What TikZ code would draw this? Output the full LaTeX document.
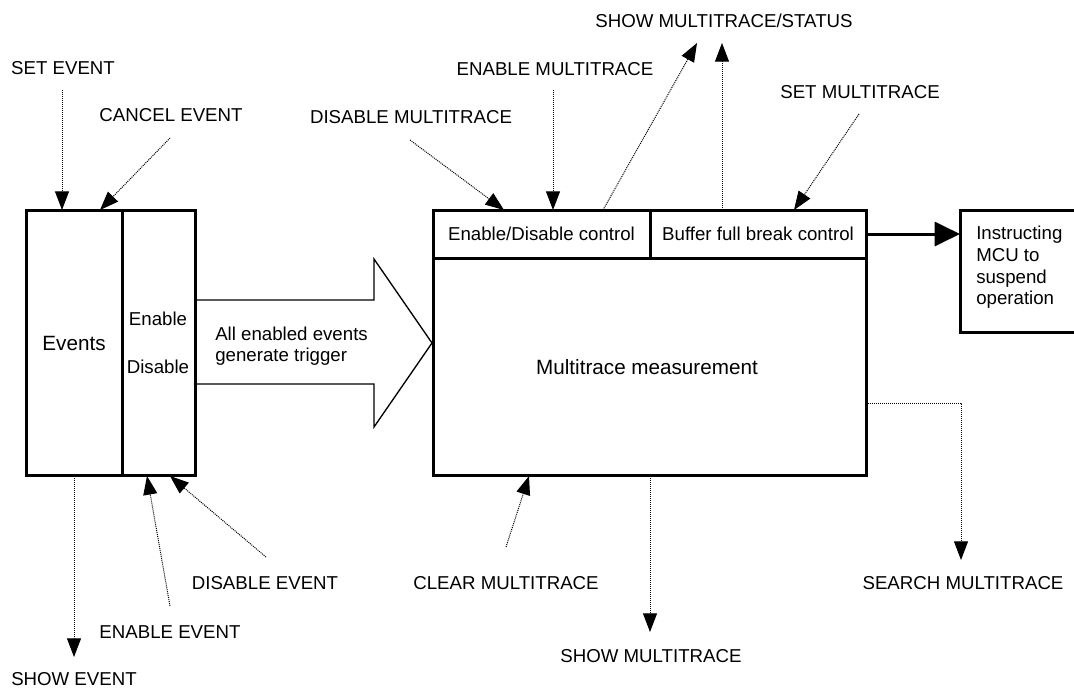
\documentclass[tikz,border=0pt]{standalone}
\usepackage{fontspec}
\setmainfont{Liberation Sans}
\usetikzlibrary{arrows.meta}
\begin{document}
\begin{tikzpicture}[x=0.75pt,y=-0.75pt,
  lbl/.style={inner sep=0pt, font=\fontsize{14}{16}\selectfont},
  big/.style={inner sep=0pt, font=\fontsize{15.5}{18}\selectfont},
  box/.style={draw, line width=2.25pt, inner sep=0pt, outer sep=0pt, anchor=north west},
  cmd/.style={line width=0.75pt, dash pattern=on 0.75pt off 0.75pt, -{Triangle[length=14pt,width=10.5pt]}},
  thickarrow/.style={line width=2.25pt, -{Triangle[length=19pt,width=18pt]}},
]
\useasboundingbox (0,0) rectangle (1074,689);
\clip (0,0) rectangle (1074,689);

% big hollow arrow
\draw[line width=1pt, line join=miter] (195,300) -- (374,300) -- (374,259) -- (432,343) -- (374,427) -- (374,384) -- (195,384);
\node[lbl, anchor=north west, align=left, font=\fontsize{14}{15.75}\selectfont] (trig) at (215,327) {All enabled events\\generate trigger};

% events boxes
\node[box, minimum width=72pt, minimum height=198.75pt] (evL) at (26,210) {};
\node[box, minimum width=54.75pt, minimum height=198.75pt] (evR) at (122,210) {};
\node[big] (evtxt) at (74,343) {Events};
\node[lbl] (en) at (158,319) {Enable};
\node[lbl] (dis) at (158,367) {Disable};

% main box
\node[box, minimum width=324.75pt, minimum height=198.75pt] (mt) at (433,210) {};
\node[box, minimum width=162.75pt, minimum height=36pt, font=\fontsize{14}{16}\selectfont] (ctlA) at (433,210) {Enable/Disable control};
\node[box, minimum width=162pt, minimum height=36pt, font=\fontsize{14}{16}\selectfont] (ctlB) at (650,210) {Buffer full break control};
\node[big] (mttxt) at (647,367) {Multitrace measurement};

% MCU box
\node[box, minimum width=90pt, minimum height=91.5pt] (mcu) at (960,210) {};
\node[lbl, anchor=north west, align=left, font=\fontsize{14}{16.3}\selectfont] (mcutxt) at (976,226) {Instructing\\MCU to\\suspend\\operation};

\draw[thickarrow] (ctlB.east) -- (ctlB.east -| mcu.west);

% labels
\node[lbl] (lSetE) at (63,68) {SET EVENT};
\node[lbl] (lCanE) at (171,115) {CANCEL EVENT};
\node[lbl] (lDisM) at (411,117) {DISABLE MULTITRACE};
\node[lbl] (lEnM) at (555,69) {ENABLE MULTITRACE};
\node[lbl] (lShS) at (724,21) {SHOW MULTITRACE/STATUS};
\node[lbl] (lSetM) at (860,92) {SET MULTITRACE};
\node[lbl] (lDisE) at (265,583) {DISABLE EVENT};
\node[lbl] (lEnE) at (170,632) {ENABLE EVENT};
\node[lbl] (lShE) at (74,679) {SHOW EVENT};
\node[lbl] (lClM) at (506,583) {CLEAR MULTITRACE};
\node[lbl] (lShM) at (651,656) {SHOW MULTITRACE};
\node[lbl] (lSrM) at (963,583) {SEARCH MULTITRACE};

% connector ends
\coordinate (s1) at (62,90);    \coordinate (e1) at (62,210);
\coordinate (s2) at (170,138);  \coordinate (e2) at (100,210);
\coordinate (s3) at (410,140);  \coordinate (e3) at (504,210);
\coordinate (s4) at (553,90);   \coordinate (e4) at (553,210);
\coordinate (s5) at (603,210);  \coordinate (e5) at (697,43);
\coordinate (s6) at (722,210);  \coordinate (e6) at (722,43);
\coordinate (s7) at (859,114);  \coordinate (e7) at (794,210);
\coordinate (s8) at (266,557);  \coordinate (e8) at (170,476);
\coordinate (s9) at (170,606);  \coordinate (e9) at (147,476);
\coordinate (s10) at (74,476);  \coordinate (e10) at (74,657);
\coordinate (s11) at (506,547); \coordinate (e11) at (529,476);
\coordinate (s12) at (650,476); \coordinate (e12) at (650,632);
\coordinate (s13) at (866,403); \coordinate (e13) at (961,560);

\draw[cmd] (s1) -- (e1);
\draw[cmd] (s2) -- (e2);
\draw[cmd] (s3) -- (e3);
\draw[cmd] (s4) -- (e4);
\draw[cmd] (s5) -- (e5);
\draw[cmd] (s6) -- (e6);
\draw[cmd] (s7) -- (e7);
\draw[cmd] (s8) -- (e8);
\draw[cmd] (s9) -- (e9);
\draw[cmd] (s10) -- (e10);
\draw[cmd] (s11) -- (e11);
\draw[cmd] (s12) -- (e12);
\draw[cmd] (s13) -| (e13);
\end{tikzpicture}
\end{document}
